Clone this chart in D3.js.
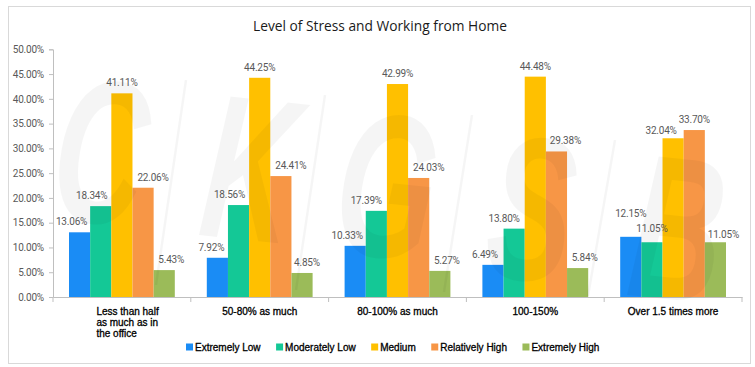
<!DOCTYPE html>
<html>
<head>
<meta charset="utf-8">
<script src="https://cdn.jsdelivr.net/npm/d3@7"></script>
<style>
  html, body { margin: 0; padding: 0; background: #fff; }
  svg { display: block; }
</style>
</head>
<body>
<svg id="chart" width="755" height="367"></svg>
<script>
// ---- data ----
const categories = ["Less than half as much as in the office", "50-80% as much", "80-100% as much", "100-150%", "Over 1.5 times more"];
const categoryLines = [["Less than half", "as much as in", "the office"], ["50-80% as much"], ["80-100% as much"], ["100-150%"], ["Over 1.5 times more"]];
const seriesNames = ["Extremely Low", "Moderately Low", "Medium", "Relatively High", "Extremely High"];
const extremelyLow   = [13.06, 7.92, 10.33, 6.49, 12.15];
const moderatelyLow  = [18.34, 18.56, 17.39, 13.80, 11.05];
const medium         = [41.11, 44.25, 42.99, 44.48, 32.04];
const relativelyHigh = [22.06, 24.41, 24.03, 29.38, 33.70];
const extremelyHigh  = [5.43, 4.85, 5.27, 5.84, 11.05];
const yTicks = [0, 5, 10, 15, 20, 25, 30, 35, 40, 45, 50];
const title = "Level of Stress and Working from Home";
const watermarkLetters = ["C", "K", "G", "S", "B"];

// ---- styles ----
const colors = ["#1a8cf5", "#14c896", "#ffc000", "#f79646", "#9bbb59"];
const allSeries = [extremelyLow, moderatelyLow, medium, relativelyHigh, extremelyHigh];
// label nudges (mimic the reference's label placement)
const labelNudgeX = [[-8,-9,0,10,7],[-6,-9,0,10,5],[-8,-10,0,10,7],[-8,-10,0,9,7],[0,0,-12,0,8]];
const labelNudgeY = [[0,0,0,0,0],[0,0,0,0,0],[0,0,0,0,0],[0,0,0,0,0],[-13,-3.5,3,0,3]];
// watermark layout
const wmCenters = [[101, 151], [250, 168], [387, 185], [532, 208], [678, 228]];
const wmSlashes = [[186, 80, 156, 285], [325, 95, 296, 290], [472, 115, 444, 292], [615, 140, 588, 296]];

const svg = d3.select("#chart");
const plot = { left: 53, right: 742, top: 49.3, bottom: 297 };

// border
svg.append("rect").attr("x", 8.5).attr("y", 6.5).attr("width", 742).attr("height", 357)
  .attr("fill", "#fff").attr("stroke", "#d9d9d9").attr("stroke-width", 1);

// title
const t = svg.append("text").attr("x", 380).attr("y", 31).attr("text-anchor", "middle")
  .attr("font-family", "'Open Sans', sans-serif").attr("font-size", 15).attr("fill", "#1a1a1a").text(title);
const tl = t.node().getComputedTextLength();
t.attr("font-size", 15 * 254 / tl);

const x0 = d3.scaleBand().domain(categories).range([plot.left, plot.right]).paddingInner(0).paddingOuter(0);
const groupPad = 16;
const x1 = d3.scaleBand().domain(seriesNames).range([groupPad, x0.bandwidth() - groupPad]).padding(0);
const y = d3.scaleLinear().domain([0, 50]).range([plot.bottom, plot.top]);

// y axis
const yAxis = d3.axisLeft(y).tickValues(yTicks).tickSize(4).tickPadding(5)
  .tickFormat(d => d.toFixed(2) + "%");
const gy = svg.append("g").attr("transform", `translate(${plot.left},0)`).call(yAxis);
gy.select(".domain").attr("stroke", "#bfbfbf");
gy.selectAll(".tick line").attr("stroke", "#bfbfbf");
gy.selectAll(".tick text").attr("font-family", "Roboto, sans-serif").attr("font-size", 10)
  .attr("fill", "#595959").attr("letter-spacing", -0.2);

// x axis
const gx = svg.append("g").attr("transform", `translate(0,${plot.bottom})`)
  .call(d3.axisBottom(x0).tickSize(0).tickFormat(""));
gx.select(".domain").attr("stroke", "#bfbfbf");
const bounds = categories.map(c => x0(c)).concat([x0(categories[categories.length - 1]) + x0.bandwidth()]);
svg.append("g").selectAll("line").data(bounds).join("line")
  .attr("x1", d => d).attr("x2", d => d).attr("y1", plot.bottom).attr("y2", plot.bottom + 5)
  .attr("stroke", "#bfbfbf");

// category labels
categories.forEach((c, i) => {
  const lines = categoryLines[i];
  const cx = x0(c) + x0.bandwidth() / 2;
  const txt = svg.append("text")
    .attr("font-family", "'Liberation Sans', Arial, sans-serif").attr("font-size", 10)
    .attr("fill", "#000").attr("stroke", "#000").attr("stroke-width", 0.3)
    .attr("text-anchor", lines.length > 1 ? "start" : "middle");
  lines.forEach((ln, j) => {
    txt.append("tspan").attr("x", lines.length > 1 ? cx - 25.5 : cx).attr("y", 314.5 + j * 11).text(ln);
  });
});

// bars
const gBars = svg.append("g");
allSeries.forEach((vals, si) => {
  gBars.append("g").selectAll("rect").data(vals).join("rect")
    .attr("x", (d, i) => x0(categories[i]) + x1(seriesNames[si]))
    .attr("y", d => y(d))
    .attr("width", x1.bandwidth())
    .attr("height", d => y(0) - y(d))
    .attr("fill", colors[si]);
});

// watermark (faint, on top of bars)
const wm = svg.append("g").attr("pointer-events", "none");
watermarkLetters.forEach((L, i) => {
  const [cx, cy] = wmCenters[i];
  wm.append("text").attr("transform", `translate(${cx},${cy}) rotate(6) scale(0.62,1)`)
    .attr("text-anchor", "middle").attr("y", 72)
    .attr("font-family", "'Liberation Sans', Arial, sans-serif").attr("font-weight", "bold")
    .attr("font-style", "italic")
    .attr("font-size", 205).attr("fill", "#000").attr("fill-opacity", 0.04).text(L);
});
wm.selectAll("line").data(wmSlashes).join("line")
  .attr("x1", d => d[0]).attr("y1", d => d[1]).attr("x2", d => d[2]).attr("y2", d => d[3])
  .attr("stroke", "#000").attr("stroke-opacity", 0.04).attr("stroke-width", 2.5);

// labels
allSeries.forEach((vals, si) => {
  svg.append("g").selectAll("text").data(vals).join("text")
    .attr("x", (d, i) => x0(categories[i]) + x1(seriesNames[si]) + x1.bandwidth() / 2 + labelNudgeX[i][si])
    .attr("y", (d, i) => y(d) - 7 + labelNudgeY[i][si])
    .attr("text-anchor", "middle")
    .attr("font-family", "Roboto, sans-serif").attr("font-size", 10).attr("letter-spacing", -0.2)
    .attr("fill", "#595959")
    .text(d => d.toFixed(2) + "%");
});

// legend
const legend = svg.append("g");
const items = [];
seriesNames.forEach((s, i) => {
  const g = legend.append("g");
  g.append("rect").attr("x", 0).attr("y", -3.5).attr("width", 7).attr("height", 7).attr("fill", colors[i]);
  const tx = g.append("text").attr("x", 9).attr("y", 3.5)
    .attr("font-family", "'Liberation Sans', Arial, sans-serif").attr("font-size", 10)
    .attr("fill", "#000").attr("stroke", "#000").attr("stroke-width", 0.3).text(s);
  items.push({ g, w: 9 + tx.node().getComputedTextLength() });
});
const gap = 15.5;
let lx = 186;
items.forEach(it => { it.g.attr("transform", `translate(${lx},347)`); lx += it.w + gap; });
</script>
</body>
</html>
